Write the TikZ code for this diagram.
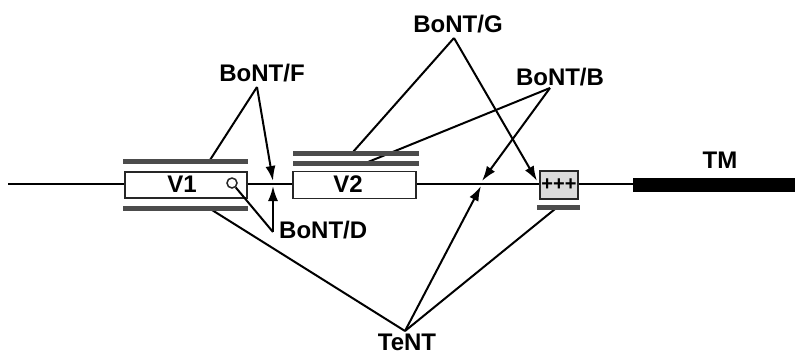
\documentclass[tikz,border=0pt]{standalone}
\usepackage{fontspec}
\setmainfont{Liberation Sans}
\usetikzlibrary{arrows.meta}
\definecolor{bargray}{gray}{0.3}
\definecolor{boxgray}{gray}{0.86}
\begin{document}
\begin{tikzpicture}[x=1pt,y=-1pt,
  lbl/.style={font=\bfseries\fontsize{24}{24}\selectfont, inner sep=0pt},
  bar/.style={fill=bargray, draw=none, inner sep=0pt, minimum height=5.5pt},
  seg/.style={line width=2pt, black},
  arr/.style={seg, -{Latex[length=15pt,width=10pt]}},
  box/.style={draw=black!85, line width=1.5pt, fill=white, inner sep=0pt}]
\path[use as bounding box] (0,0) rectangle (798,354);

% backbone
\coordinate (L) at (8,184);
\coordinate (R) at (795,184);
\draw[line width=2.4pt] (L) -- (R);

% domains
\node[box, minimum width=122pt, minimum height=26pt] (v1) at (186,185) {};
\node[lbl] (v1t) at (182,184) {V1};
\node[circle, draw=black!85, line width=1.5pt, fill=white, minimum size=10pt, inner sep=0pt] (cir) at (232,183) {};
\node[box, minimum width=123pt, minimum height=27pt] (v2) at (354.5,185) {};
\node[lbl] (v2t) at (348,184) {V2};
\node[box, fill=boxgray, minimum width=38pt, minimum height=28pt, font=\bfseries\fontsize{20}{20}\selectfont] (pbox) at (559,185) {+++};
\node[fill=black, inner sep=0pt, minimum width=162pt, minimum height=14pt] (tm) at (714,185) {};

% labels
\node[lbl] (lF) at (262,73) {BoNT/F};
\node[lbl, anchor=west] (lD) at (279,230) {BoNT/D};
\node[lbl] (lG) at (458,24) {BoNT/G};
\node[lbl] (lB) at (560,77) {BoNT/B};
\node[lbl] (lT) at (407,342) {TeNT};
\node[lbl] (lTM) at (720,160) {TM};

% apex points
\coordinate (cF) at (257,87);
\coordinate (cD) at (273,232);
\coordinate (cG) at (454,38);
\coordinate (cB) at (550,88);
\coordinate (cT) at (405,331);

% target points
\coordinate (pF) at (210,160);
\coordinate (tF) at (273,181);
\coordinate (tD) at (273,186);
\coordinate (pG) at (353,152);
\coordinate (tG) at (537,181);
\coordinate (pB) at (368,162);
\coordinate (tB) at (482,181);
\coordinate (pT1) at (212,210);
\coordinate (tT) at (481,186);
\coordinate (pT2) at (555,209);

% connectors
\draw[seg] (cF) -- (pF);
\draw[arr] (cF) -- (tF);
\draw[seg] (cD) -- (cir);
\draw[arr] (cD) -- (tD);
\draw[seg] (cG) -- (pG);
\draw[arr] (cG) -- (tG);
\draw[seg] (cB) -- (pB);
\draw[arr] (cB) -- (tB);
\draw[seg] (cT) -- (pT1);
\draw[arr] (cT) -- (tT);
\draw[seg] (cT) -- (pT2);

% cleavage bars
\node[bar, minimum width=125pt] (b1t) at (185.5,161.5) {};
\node[bar, minimum width=125pt] (b1b) at (185.5,208.5) {};
\node[bar, minimum width=126pt] (b2a) at (356,153.5) {};
\node[bar, minimum width=126pt] (b2b) at (356,163.5) {};
\node[bar, minimum width=43pt] (b3) at (558.5,207.5) {};
\end{tikzpicture}
\end{document}
